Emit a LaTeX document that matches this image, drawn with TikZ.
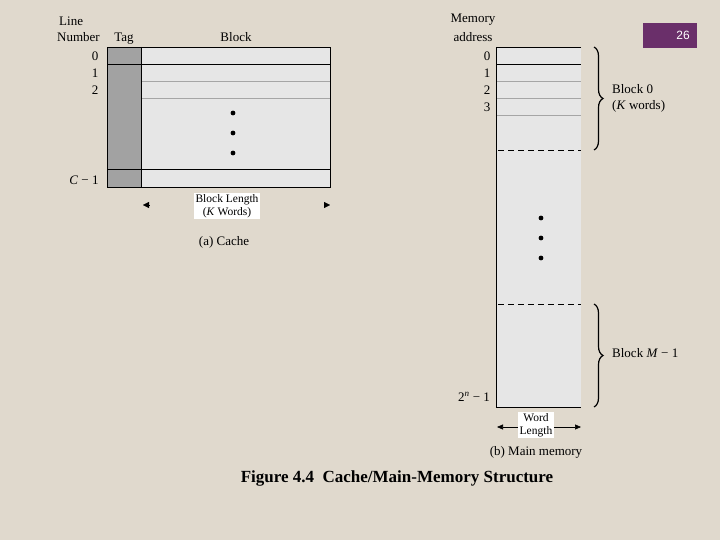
\documentclass[tikz,border=0pt]{standalone}
\usepackage{fontspec}
\setmainfont{Liberation Serif}
\newfontfamily\pagefont{Liberation Sans}
\usetikzlibrary{decorations.pathreplacing,arrows.meta}

\definecolor{paper}{RGB}{224,217,205}
\definecolor{cellfill}{RGB}{230,230,230}
\definecolor{tagfill}{RGB}{162,162,162}
\definecolor{rowline}{RGB}{165,165,165}
\definecolor{slidepurple}{RGB}{106,47,106}

\tikzset{
	lbl/.style={inner sep=0pt, font=\fontsize{13}{14}\selectfont},
	boxlbl/.style={fill=white, inner sep=1.5pt, align=center, font=\fontsize{11.5}{13}\selectfont},
	bracelbl/.style={anchor=west, inner sep=0pt, align=left, font=\fontsize{13}{16}\selectfont},
	memdots/.style={fill=black},
}

\begin{document}
\begin{tikzpicture}[x=1pt,y=-1pt]
	\fill [paper] (0,0) rectangle (720,540);
	% slide number
	\fill [slidepurple] (643,23) rectangle (697,48);
	\node [text=white, inner sep=0pt, font=\pagefont\fontsize{12}{13}\selectfont] (pagenum) at (683,35) {26};
	% cache
	\begin{scope}
		\fill [cellfill] (141,47) rectangle (330,187);
		\fill [tagfill] (107,47) rectangle (141,187);
		\draw [rowline] (141,81) -- (330,81);
		\draw [rowline] (141,98) -- (330,98);
		\draw [semithick] (107,64) -- (330,64);
		\draw [semithick] (107,169) -- (330,169);
		\draw [semithick] (141,47) -- (141,187);
		\draw [thick] (107,47) rectangle (330,187);
		\foreach \y in {113,133,153}
			\fill [memdots] (233,\y) circle (2.4);
		\node [lbl, anchor=base west] (linehd) at (59,26) {Line};
		\node [lbl, anchor=base west] (numhd) at (57,42) {Number};
		\node [lbl, anchor=base] (taghd) at (124,42) {Tag};
		\node [lbl, anchor=base] (blockhd) at (236,42) {Block};
		\node [lbl] (ln0) at (95,56) {0};
		\node [lbl] (ln1) at (95,73) {1};
		\node [lbl] (ln2) at (95,90) {2};
		\node [lbl] (lnc) at (84,180) {\textit{C} − 1};
		\coordinate (blL) at (143,205);
		\coordinate (blR) at (330,205);
		\node [boxlbl] (blen) at (227,206) {Block Length\\(\textit{K} Words)};
		\draw [-{Triangle[width=6pt,length=6pt]}] ([xshift=6pt]blL) -- (blL);
		\draw [-{Triangle[width=6pt,length=6pt]}] ([xshift=-6pt]blR) -- (blR);
		\node [lbl] (capa) at (224,242) {(a) Cache};
	\end{scope}
	% main memory
	\begin{scope}
		\fill [cellfill] (496,47) rectangle (581,407);
		\draw [rowline] (496,81) -- (581,81);
		\draw [rowline] (496,98) -- (581,98);
		\draw [rowline] (496,115) -- (581,115);
		\draw [semithick] (496,64) -- (581,64);
		\draw [semithick, dash pattern=on 6pt off 4pt] (498,150) -- (581,150);
		\draw [semithick, dash pattern=on 6pt off 4pt] (498,304) -- (581,304);
		\draw [thick] (581,47) -- (496,47) -- (496,407) -- (581,407);
		\foreach \y in {218,238,258}
			\fill [memdots] (541,\y) circle (2.4);
		\node [lbl] (memhd) at (473,20) {Memory};
		\node [lbl] (addrhd) at (473,37) {address};
		\node [lbl] (ad0) at (487,56) {0};
		\node [lbl] (ad1) at (487,73) {1};
		\node [lbl] (ad2) at (487,90) {2};
		\node [lbl] (ad3) at (487,107) {3};
		\node [lbl] (adn) at (474,397) {2\textsuperscript{\textit{n}} − 1};
		% braces
		\coordinate (b0top) at (594,47);
		\coordinate (b0bot) at (594,150);
		\coordinate (bmtop) at (594,304);
		\coordinate (bmbot) at (594,407);
		\draw [very thick, decorate, decoration={brace, amplitude=9pt}] (b0top) -- (b0bot);
		\draw [very thick, decorate, decoration={brace, amplitude=9pt}] (bmtop) -- (bmbot);
		\node [bracelbl] (blk0) at (612,98) {Block 0\\(\textit{K} words)};
		\node [bracelbl] (blkm) at (612,353) {Block \textit{M} − 1};
		% word length
		\coordinate (wlL) at (497,427);
		\coordinate (wlR) at (581,427);
		\node [boxlbl] (wlen) at (536,425) {Word\\Length};
		\draw [semithick, -{Triangle[width=5pt,length=6pt]}] (wlen.west |- wlL) -- (wlL);
		\draw [semithick, -{Triangle[width=5pt,length=6pt]}] (wlen.east |- wlR) -- (wlR);
		\node [lbl] (capb) at (536,452) {(b) Main memory};
	\end{scope}
	% caption
	\node [inner sep=0pt, font=\bfseries\fontsize{17}{18}\selectfont] (figcap) at (397,478) {Figure 4.4\ \ Cache/Main-Memory Structure};
\end{tikzpicture}
\end{document}
